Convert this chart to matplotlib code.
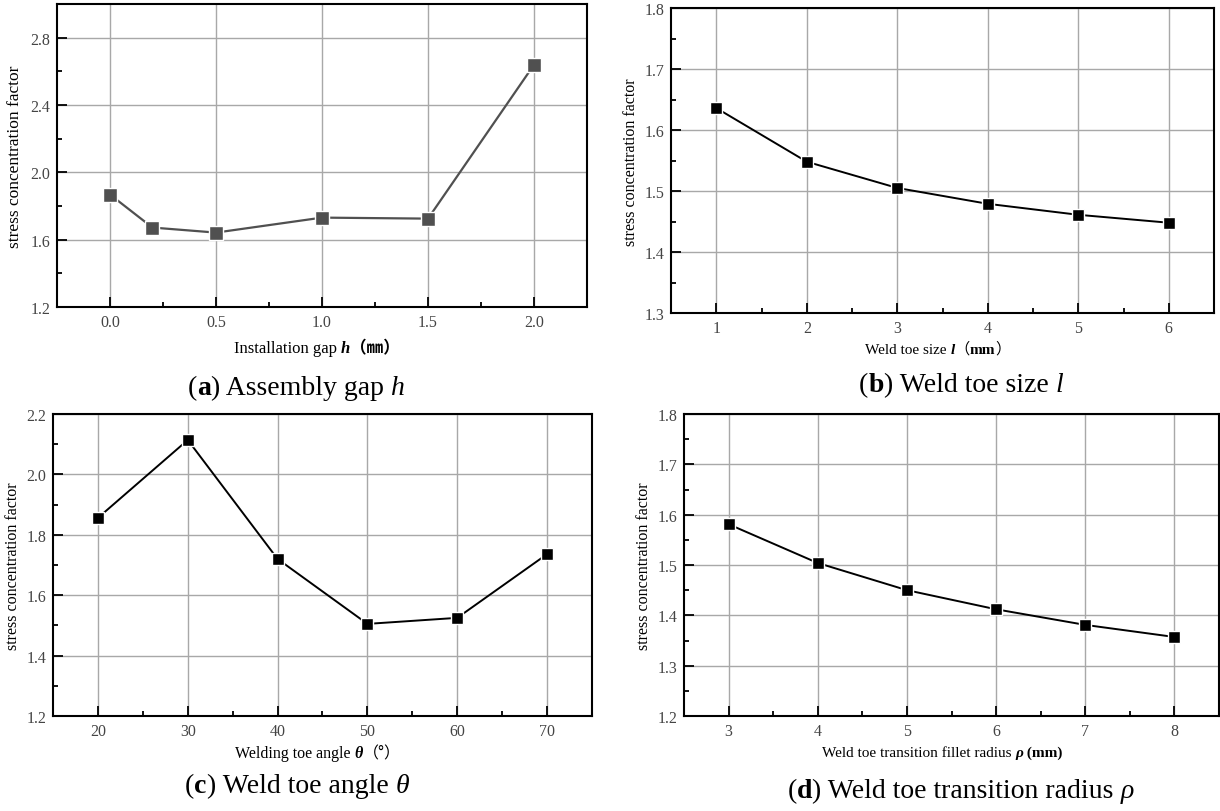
import matplotlib
matplotlib.use('Agg')
import matplotlib.pyplot as plt
from matplotlib.ticker import MultipleLocator, FormatStrFormatter
from matplotlib.transforms import IdentityTransform

# ---------------- data ----------------
gap_h = [0.0, 0.2, 0.5, 1.0, 1.5, 2.0]
scf_gap = [1.868, 1.672, 1.642, 1.731, 1.725, 2.639]

toe_size_l = [1, 2, 3, 4, 5, 6]
scf_size = [1.636, 1.548, 1.505, 1.479, 1.461, 1.448]

toe_angle = [20, 30, 40, 50, 60, 70]
scf_angle = [1.856, 2.114, 1.720, 1.505, 1.525, 1.736]

radius_rho = [3, 4, 5, 6, 7, 8]
scf_radius = [1.581, 1.504, 1.450, 1.412, 1.381, 1.357]

ylabel_text = "stress concentration factor"

W, H = 1220, 812
fig = plt.figure(figsize=(W / 100, H / 100), dpi=100)
fig.patch.set_facecolor('white')

SERIF = 'Liberation Serif'
CJK = 'Noto Sans CJK SC'
TICKFONT = 'Liberation Serif'


def add_ax(l, r, t, b):
    return fig.add_axes([l / W, 1 - b / H, (r - l) / W, (b - t) / H])


def style(ax, xlim, ylim, xmaj, xmin, ymaj, ymin, xfmt, yfmt, fs=11.5):
    ax.set_xlim(*xlim)
    ax.set_ylim(*ylim)
    ax.xaxis.set_major_locator(MultipleLocator(xmaj))
    ax.xaxis.set_minor_locator(MultipleLocator(xmin))
    ax.yaxis.set_major_locator(MultipleLocator(ymaj))
    ax.yaxis.set_minor_locator(MultipleLocator(ymin))
    ax.xaxis.set_major_formatter(FormatStrFormatter(xfmt))
    ax.yaxis.set_major_formatter(FormatStrFormatter(yfmt))
    ax.grid(True, which='major', color='#a8a8a8', lw=1.0)
    ax.set_axisbelow(True)
    ax.tick_params(which='both', direction='in', top=False, right=False,
                   colors='black', labelcolor='#444444', width=1.3)
    ax.tick_params(which='major', length=7, pad=5, labelsize=fs)
    ax.tick_params(which='minor', length=3.5)
    for lab in ax.get_xticklabels() + ax.get_yticklabels():
        lab.set_fontfamily(TICKFONT)
    for sp in ax.spines.values():
        sp.set_linewidth(1.5)
        sp.set_color('black')


def rich(xc, ybase, pieces, size):
    """Place a row of differently styled text pieces centred at xc (px),
    baseline ybase (px from top)."""
    renderer = fig.canvas.get_renderer()
    texts = []
    for s, kw in pieces:
        kw = dict(kw)
        fam = kw.pop('family', [SERIF])
        t = fig.text(0, 0, s, fontsize=size, transform=IdentityTransform(),
                     va='baseline', ha='left', family=fam, **kw)
        texts.append(t)
    widths = [t.get_window_extent(renderer).width for t in texts]
    x = xc - sum(widths) / 2
    for t, w in zip(texts, widths):
        t.set_position((x, H - ybase))
        x += w


def ylab(xc, yc, size):
    fig.text(xc / W, 1 - yc / H, ylabel_text, rotation=90, ha='center',
             va='center', fontsize=size, family=SERIF)


# ---------------- (a) ----------------
axa = add_ax(57, 587, 5, 308)
axa.plot(gap_h, scf_gap, color='#505050', lw=1.6, marker='s', ms=10,
         mfc='#505050', mec='white', mew=1.0)
style(axa, (-0.25, 2.25), (1.2, 3.0), 0.5, 0.25, 0.4, 0.2, '%.1f', '%.1f')
ylab(15, 157, 12.5)
rich(317, 353, [("Installation gap ", {}),
                ("h", {'style': 'italic', 'weight': 'bold'}),
                ("（㎜）", {'family': [CJK], 'weight': 'bold'})], 12)
rich(296, 395, [("(", {}), ("a", {'weight': 'bold'}), (") Assembly gap ", {}),
                ("h", {'style': 'italic'})], 20)

# ---------------- (b) ----------------
axb = add_ax(671, 1214, 9, 314)
axb.plot(toe_size_l, scf_size, color='black', lw=1.4, marker='s', ms=8.5,
         mfc='black', mec='white', mew=1.0)
style(axb, (0.5, 6.5), (1.3, 1.8), 1, 0.5, 0.1, 0.05, '%d', '%.1f')
ylab(631, 162, 11.5)
rich(938, 354, [("Weld toe size ", {}),
                ("l", {'style': 'italic', 'weight': 'bold'}),
                ("（", {'family': [CJK]}),
                ("mm", {'weight': 'bold'}),
                ("）", {'family': [CJK]})], 11)
rich(961, 392, [("(", {}), ("b", {'weight': 'bold'}), (") Weld toe size ", {}),
                ("l", {'style': 'italic'})], 20)

# ---------------- (c) ----------------
axc = add_ax(53, 592, 415, 717)
axc.plot(toe_angle, scf_angle, color='black', lw=1.4, marker='s', ms=8.5,
         mfc='black', mec='white', mew=1.0)
style(axc, (15, 75), (1.2, 2.2), 10, 5, 0.2, 0.1, '%d', '%.1f')
ylab(13, 566, 11.5)
rich(318, 758, [("Welding toe angle ", {}),
                ("θ", {'style': 'italic', 'weight': 'bold'}),
                ("（°）", {'family': [CJK]})], 11.5)
rich(297, 793, [("(", {}), ("c", {'weight': 'bold'}), (") Weld toe angle ", {}),
                ("θ", {'style': 'italic'})], 20)

# ---------------- (d) ----------------
axd = add_ax(684, 1219, 415, 717)
axd.plot(radius_rho, scf_radius, color='black', lw=1.4, marker='s', ms=8.5,
         mfc='black', mec='white', mew=1.0)
style(axd, (2.5, 8.5), (1.2, 1.8), 1, 0.5, 0.1, 0.05, '%d', '%.1f')
ylab(644, 566, 11.5)
rich(942, 757, [("Weld toe transition fillet radius ", {}),
                ("ρ", {'style': 'italic', 'weight': 'bold'}),
                (" (mm)", {'weight': 'bold'})], 11)
rich(961, 798, [("(", {}), ("d", {'weight': 'bold'}),
                (") Weld toe transition radius ", {}),
                ("ρ", {'style': 'italic'})], 20)

fig.savefig('out.png', dpi=100, facecolor='white')
